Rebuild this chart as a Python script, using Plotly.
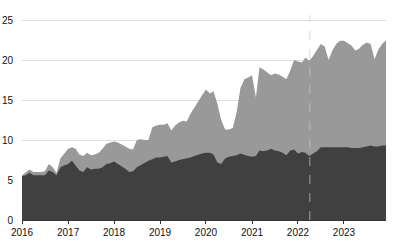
import plotly.graph_objects as go
import pandas as pd

months = pd.date_range("2016-01-01", "2023-12-01", freq="MS")

total = [
    5.6, 6.0, 6.3, 6.0, 6.0, 6.0, 6.1, 7.0, 6.6, 5.9, 7.7, 8.3,
    8.9, 9.1, 8.9, 8.2, 8.0, 8.4, 8.1, 8.2, 8.4, 8.9, 9.5, 9.7,
    9.8, 9.7, 9.5, 9.2, 8.9, 8.8, 10.0, 10.1, 10.0, 10.0, 11.6, 11.8,
    11.9, 11.9, 12.1, 11.2, 11.8, 12.2, 12.4, 12.3, 13.3, 14.0, 14.8, 15.6,
    16.3, 15.8, 16.1, 14.5, 12.5, 11.3, 11.3, 11.5, 13.5, 16.5, 17.6, 17.8,
    18.1, 15.3, 19.1, 18.8, 18.4, 18.1, 18.3, 18.2, 17.9, 17.6, 18.7, 20.0,
    19.8, 19.7, 20.3, 19.9, 20.5, 21.2, 22.0, 21.7, 20.0, 21.2, 22.0, 22.4,
    22.4, 22.1, 21.8, 21.2, 21.4, 21.9, 22.2, 22.0, 20.1, 21.3, 22.0, 22.5,
]

base = [
    5.5, 5.6, 5.9, 5.6, 5.6, 5.6, 5.6, 6.2, 6.0, 5.6, 6.6, 6.8,
    7.0, 7.4, 6.8, 6.2, 6.0, 6.6, 6.3, 6.4, 6.4, 6.6, 7.0, 7.1,
    7.3, 7.0, 6.8, 6.4, 6.0, 6.1, 6.6, 6.9, 7.2, 7.4, 7.6, 7.8,
    7.8, 7.9, 8.0, 7.2, 7.3, 7.5, 7.6, 7.7, 7.8, 8.0, 8.2, 8.3,
    8.4, 8.4, 8.2, 7.2, 7.0, 7.7, 7.9, 8.0, 8.1, 8.3, 8.1, 8.0,
    7.9, 8.0, 8.7, 8.6, 8.7, 8.9, 8.7, 8.6, 8.4, 8.1, 8.7, 8.8,
    8.3, 8.5, 8.4, 8.0, 8.3, 8.6, 9.1, 9.1, 9.1, 9.1, 9.1, 9.1,
    9.1, 9.1, 9.0, 9.0, 9.0, 9.1, 9.2, 9.3, 9.2, 9.2, 9.3, 9.3,
]

y_ticks = [0, 5, 10, 15, 20, 25]
marker_date = "2022-04-05"

fig = go.Figure()
fig.add_trace(go.Scatter(x=months, y=total, mode="lines", line=dict(width=0, color="#999999"),
                         fill="tozeroy", fillcolor="#999999", showlegend=False))
fig.add_trace(go.Scatter(x=months, y=base, mode="lines", line=dict(width=0, color="#404040"),
                         fill="tozeroy", fillcolor="#404040", showlegend=False))

fig.add_shape(type="line", x0=marker_date, x1=marker_date, yref="paper", y0=0, y1=0.985,
              line=dict(color="rgba(200,200,200,0.7)", width=1, dash="dash"), layer="above")

fig.update_layout(
    width=400, height=242,
    margin=dict(l=22, r=14, t=12, b=22),
    paper_bgcolor="white", plot_bgcolor="white",
    font=dict(family="Liberation Sans, Arial, sans-serif", size=10, color="#111111"),
    xaxis=dict(range=["2016-01-01", "2023-12-01"], dtick="M12", tick0="2016-01-01",
               tickformat="%Y", showgrid=False, showline=True, linecolor="#333333",
               ticks="outside", ticklen=3, tickcolor="#333333", zeroline=False,
               automargin=False),
    yaxis=dict(range=[0, 26], tickvals=y_ticks, showgrid=True, gridcolor="#dddddd",
               zeroline=False, showline=False, ticks="", ticklabelstandoff=8,
               automargin=False),
)

fig.write_html("out.html")
